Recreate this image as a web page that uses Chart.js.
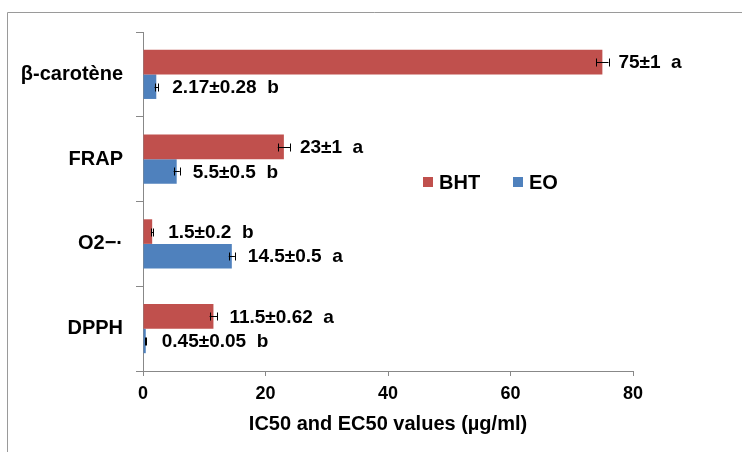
<!DOCTYPE html>
<html>
<head>
<meta charset="utf-8">
<script src="https://cdn.jsdelivr.net/npm/chart.js@4"></script>
<style>
  html, body { margin: 0; padding: 0; background: #fff; }
  #wrap { width: 742px; height: 452px; }
</style>
</head>
<body>
<div id="wrap"><canvas id="c" width="742" height="452"></canvas></div>
<script>
const categories = ['β-carotène', 'FRAP', 'O2−·', 'DPPH'];
const seriesNames = ['BHT', 'EO'];
const bhtValues = [75, 23, 1.5, 11.5];
const bhtErrors = [1, 1, 0.2, 0.62];
const eoValues = [2.17, 5.5, 14.5, 0.45];
const eoErrors = [0.28, 0.5, 0.5, 0.05];
const bhtLabels = ['75±1  a', '23±1  a', '1.5±0.2  b', '11.5±0.62  a'];
const eoLabels = ['2.17±0.28  b', '5.5±0.5  b', '14.5±0.5  a', '0.45±0.05  b'];
const xTicks = [0, 20, 40, 60, 80];
const axisTitle = 'IC50 and EC50 values (µg/ml)';

const RED = '#C0504D';
const BLUE = '#4F81BD';
const FONT = "'Liberation Sans', Arial, sans-serif";

const errorsBySet = [bhtErrors, eoErrors];
const labelsBySet = [bhtLabels, eoLabels];

const overlay = {
  id: 'overlay',
  beforeDraw(chart) {
    const ctx = chart.ctx;
    ctx.save();
    ctx.fillStyle = '#fff';
    ctx.fillRect(0, 0, chart.width, chart.height);
    ctx.strokeStyle = '#9a9a9a';
    ctx.lineWidth = 1;
    ctx.beginPath();
    ctx.moveTo(7.5, 452);
    ctx.lineTo(7.5, 12.5);
    ctx.lineTo(742, 12.5);
    ctx.stroke();
    ctx.restore();
  },
  afterDatasetsDraw(chart) {
    const ctx = chart.ctx;
    const xs = chart.scales.x;
    ctx.save();
    chart.data.datasets.forEach((ds, di) => {
      const meta = chart.getDatasetMeta(di);
      meta.data.forEach((bar, i) => {
        const v = ds.data[i];
        const e = errorsBySet[di][i];
        const y = Math.round(bar.y) + 0.5;
        const x1 = xs.getPixelForValue(v - e);
        const x2 = xs.getPixelForValue(v + e);
        ctx.strokeStyle = '#000';
        ctx.lineWidth = 1;
        ctx.beginPath();
        ctx.moveTo(x1, y); ctx.lineTo(x2, y);
        ctx.moveTo(Math.round(x1) + 0.5, y - 4); ctx.lineTo(Math.round(x1) + 0.5, y + 4);
        ctx.moveTo(Math.round(x2) + 0.5, y - 4); ctx.lineTo(Math.round(x2) + 0.5, y + 4);
        ctx.stroke();
        ctx.fillStyle = '#000';
        ctx.font = 'bold 19px ' + FONT;
        ctx.textAlign = 'left';
        ctx.textBaseline = 'middle';
        ctx.fillText(labelsBySet[di][i], xs.getPixelForValue(v) + 16, bar.y + 1);
      });
    });
    // legend
    const ly = 182;
    const items = [[423, 0], [513, 1]];
    items.forEach(([lx, di]) => {
      ctx.fillStyle = chart.data.datasets[di].backgroundColor;
      ctx.fillRect(lx, ly - 5, 10, 10);
      ctx.fillStyle = '#000';
      ctx.font = 'bold 20px ' + FONT;
      ctx.textAlign = 'left';
      ctx.textBaseline = 'middle';
      ctx.fillText(seriesNames[di], lx + 16, ly + 1);
    });
    ctx.restore();
  }
};

new Chart(document.getElementById('c'), {
  type: 'bar',
  data: {
    labels: categories,
    datasets: [
      { label: seriesNames[0], data: bhtValues, backgroundColor: RED, categoryPercentage: 0.58, barPercentage: 1.0 },
      { label: seriesNames[1], data: eoValues, backgroundColor: BLUE, categoryPercentage: 0.58, barPercentage: 1.0 }
    ]
  },
  options: {
    indexAxis: 'y',
    responsive: false,
    animation: false,
    devicePixelRatio: 1,
    layout: { padding: { top: 32, right: 109, left: 0, bottom: 16 } },
    plugins: { legend: { display: false }, tooltip: { enabled: false } },
    scales: {
      x: {
        min: 0, max: 80,
        afterBuildTicks: s => { s.ticks = xTicks.map(v => ({ value: v })); },
        ticks: { color: '#000', font: { family: FONT, size: 18, weight: 'bold' }, padding: 7 },
        grid: { drawOnChartArea: false, drawTicks: true, tickLength: 5, color: '#888' },
        border: { color: '#888' },
        title: { display: true, text: axisTitle, color: '#000', font: { family: FONT, size: 20, weight: 'bold' }, padding: { top: 2, bottom: 0 } },
        afterFit: s => { s.height = 65; }
      },
      y: {
        ticks: { color: '#000', font: { family: FONT, size: 20, weight: 'bold' }, padding: 13 },
        grid: { drawOnChartArea: false, drawTicks: true, tickLength: 7, color: '#888', offset: true },
        border: { color: '#888' },
        afterFit: s => { s.width = 143; }
      }
    }
  },
  plugins: [overlay]
});
</script>
</body>
</html>
